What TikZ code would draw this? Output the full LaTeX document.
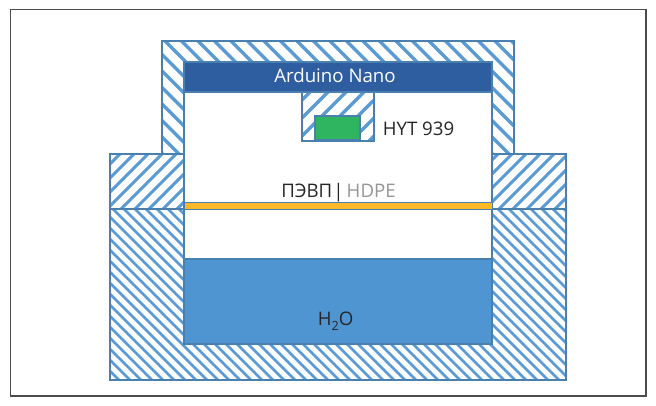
\documentclass[tikz,border=0pt]{standalone}
\usepackage{fontspec}
\setmainfont{Open Sans}
\definecolor{edgeblue}{HTML}{4A80B0}
\definecolor{hatchblue}{HTML}{5B9BD5}
\definecolor{nanoblue}{HTML}{2E5E9F}
\definecolor{waterblue}{HTML}{4F95D2}
\definecolor{sensorgreen}{HTML}{2FB55F}
\definecolor{hdpeyellow}{HTML}{FDB827}
\definecolor{labelgrey}{HTML}{262626}
\definecolor{hdpegrey}{HTML}{969696}
\tikzset{
  x=0.75pt,y=-0.75pt,
  frameline/.style={draw=black!70,line width=0.9pt},
  partedge/.style={draw=edgeblue,line width=0.8pt},
  hatchline/.style={draw=hatchblue,line width=#1,line cap=butt},
  lbl/.style={inner sep=0pt,font=\fontsize{14pt}{15pt}\selectfont,text=labelgrey,anchor=base},
}
% \hatchregion{path}{dir +1 = "\" / -1 = "/"}{horizontal period}{line width}{offset}
\newcommand{\hatchregion}[5]{%
  \begin{scope}
    \clip #1;
    \pgfmathsetmacro{\hstep}{#3}
    \pgfmathsetmacro{\hnext}{-800+\hstep}
    \foreach \k in {-800,\hnext,...,1400}{
      \ifnum#2>0
        \draw[hatchline=#4] (\k+#5,0) -- ++(500,500);
      \else
        \draw[hatchline=#4] (\k+#5,500) -- ++(500,-500);
      \fi
    }
  \end{scope}
  \draw[partedge] #1;
}
\begin{document}
\begin{tikzpicture}
\useasboundingbox (0,0) rectangle (656,406);
\fill[white] (0,0) rectangle (656,406);
\draw[frameline] (10.5,9.5) rectangle (646,396);
% top housing
\hatchregion{(162,41) -- (514,41) -- (514,154) -- (492,154) -- (492,62) -- (184,62) -- (184,154) -- (162,154) -- cycle}{1}{16.5}{2.6pt}{0}
% flanges
\hatchregion{(110,154) rectangle (184,209)}{-1}{14}{2.3pt}{0}
\hatchregion{(492,154) rectangle (566,209)}{-1}{14}{2.3pt}{0}
% bottom
\hatchregion{(110,209) -- (184,209) -- (184,344) -- (492,344) -- (492,209) -- (566,209) -- (566,380) -- (110,380) -- cycle}{1}{11}{1.9pt}{0}
% water
\path[fill=waterblue,draw=edgeblue,line width=1pt] (184,259) rectangle (492,344);
% membrane
\path[fill=hdpeyellow,draw=edgeblue,line width=0.6pt] (184,202.5) rectangle (492,209);
% arduino
\path[fill=nanoblue,draw=edgeblue,line width=0.8pt] (184,62) rectangle (492,92);
\node[lbl,text=white] (nano) at (335,83) {Arduino Nano};
% sensor housing
\hatchregion{(302,92) rectangle (374,141)}{-1}{18}{2.6pt}{0}
\path[fill=sensorgreen,draw=edgeblue,line width=1pt] (315,116) rectangle (360,140);
\node[lbl,anchor=base west] (hyt) at (382.5,135.5) {HYT 939};
\node[lbl,anchor=base west] (pevp) at (281,197) {ПЭВП};
\node[lbl] (bar) at (338.5,197) {|};
\node[lbl,anchor=base east,text=hdpegrey] (hdpe) at (396,197) {HDPE};
\node[lbl,anchor=base west] (water) at (317.5,325) {H\raisebox{-0.32em}{\fontsize{9.5pt}{10pt}\selectfont 2}O};
\end{tikzpicture}
\end{document}
